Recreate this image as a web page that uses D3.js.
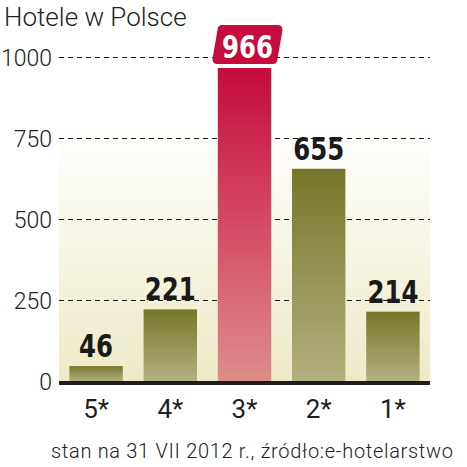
<!DOCTYPE html>
<html>
<head>
<meta charset="utf-8">
<script src="https://cdn.jsdelivr.net/npm/d3@7"></script>
<style>
  body { margin: 0; background: #fff; }
  svg { display: block; }
</style>
</head>
<body>
<svg id="container"></svg>
<script>
// data
const categories = ['5*', '4*', '3*', '2*', '1*']
const values = [46, 221, 966, 655, 214]
const yTicks = [0, 250, 500, 750, 1000]
const highlight = '3*'

const width = 467
const height = 467
const margin = { top: 57, right: 37, bottom: 86, left: 59 }
const w = width - margin.left - margin.right
const h = height - margin.top - margin.bottom

const svg = d3.select('#container').attr('width', width).attr('height', height)

const defs = svg.append('defs')

// plot background gradient
const bg = defs.append('linearGradient').attr('id', 'bg')
  .attr('x1', 0).attr('y1', 0).attr('x2', 0).attr('y2', 1)
bg.append('stop').attr('offset', '0%').attr('stop-color', '#ffffff')
bg.append('stop').attr('offset', '25%').attr('stop-color', '#ffffff')
bg.append('stop').attr('offset', '100%').attr('stop-color', '#eeeac8')

const olive = defs.append('linearGradient').attr('id', 'olive')
  .attr('x1', 0).attr('y1', 0).attr('x2', 0).attr('y2', 1)
olive.append('stop').attr('offset', '0%').attr('stop-color', '#76772a')
olive.append('stop').attr('offset', '100%').attr('stop-color', '#b4b07f')

const red = defs.append('linearGradient').attr('id', 'red')
  .attr('x1', 0).attr('y1', 0).attr('x2', 0).attr('y2', 1)
red.append('stop').attr('offset', '0%').attr('stop-color', '#c60b3e')
red.append('stop').attr('offset', '100%').attr('stop-color', '#df8c8c')

const g = svg.append('g')
  .attr('transform', `translate(${margin.left},${margin.top})`)

const x = d3.scaleBand()
  .domain(categories)
  .range([0, w])
  .paddingInner(0.28)
  .paddingOuter(0.14)

const y = d3.scaleLinear().domain([0, 1000]).range([h, 0])

// background
g.append('rect')
  .attr('x', 0)
  .attr('y', -20)
  .attr('width', w)
  .attr('height', h + 20)
  .attr('fill', 'url(#bg)')

// title
svg.append('text')
  .attr('x', 4)
  .attr('y', 26)
  .style('font-family', 'Roboto, "Open Sans", sans-serif')
  .style('font-weight', 300)
  .style('font-size', '26px')
  .attr('fill', '#222')
  .text('Hotele w Polsce')

// y axis: dashed gridlines + labels
const yAxis = d3.axisLeft(y)
  .tickValues(yTicks)
  .tickSize(-w)
  .tickPadding(7)
  .tickFormat(d3.format('d'))

const gY = g.append('g').attr('class', 'axis y-axis').call(yAxis)
gY.select('.domain').remove()
gY.selectAll('.tick line')
  .attr('stroke', '#1a1a1a')
  .attr('stroke-width', 1)
  .attr('stroke-dasharray', '5,4')
gY.selectAll('.tick text')
  .attr('fill', '#222')
  .attr('dy', '0.36em')
  .style('font-family', 'Roboto, "Open Sans", sans-serif')
  .style('font-weight', 300)
  .style('font-size', '23px')

// bars
g.append('g')
  .selectAll('rect')
  .data(categories)
  .join('rect')
  .attr('x', d => x(d))
  .attr('y', (d, i) => y(values[i]))
  .attr('width', x.bandwidth())
  .attr('height', (d, i) => y(0) - y(values[i]))
  .attr('fill', d => d === highlight ? 'url(#red)' : 'url(#olive)')

// baseline
g.append('line')
  .attr('x1', 0)
  .attr('x2', w)
  .attr('y1', y(0) + 2)
  .attr('y2', y(0) + 2)
  .attr('stroke', '#1e1e1e')
  .attr('stroke-width', 4)

// highlight box for the biggest value
const hi = categories.indexOf(highlight)
const bx = x(highlight) + x.bandwidth() / 2 + 3
const bTop = y(values[hi]) - 43
const bBot = y(values[hi]) - 4
const bw = 70
const sl = 5
const r = 5
const x0 = bx - bw / 2
const x1 = bx + bw / 2
g.append('path')
  .attr('d', [
    `M${x0 + sl + r},${bTop}`,
    `L${x1 - r},${bTop}`,
    `Q${x1},${bTop} ${x1},${bTop + r}`,
    `L${x1 - sl},${bBot - r}`,
    `Q${x1 - sl},${bBot} ${x1 - sl - r},${bBot}`,
    `L${x0 + r},${bBot}`,
    `Q${x0},${bBot} ${x0},${bBot - r}`,
    `L${x0 + sl},${bTop + r}`,
    `Q${x0 + sl},${bTop} ${x0 + sl + r},${bTop}`,
    'Z'
  ].join(' '))
  .attr('fill', '#c60b3e')

// value labels
g.append('g')
  .selectAll('text')
  .data(categories)
  .join('text')
  .attr('x', d => x(d) + x.bandwidth() / 2 + (d === highlight ? 3 : 0))
  .attr('y', (d, i) => d === highlight ? bBot - 6 : y(values[i]) - 9)
  .attr('text-anchor', 'middle')
  .attr('textLength', (d, i) => String(values[i]).length * 17)
  .attr('lengthAdjust', 'spacingAndGlyphs')
  .attr('fill', d => d === highlight ? '#fff' : '#1a1a1a')
  .style('font-family', '"DejaVu Sans Condensed", "DejaVu Sans", sans-serif')
  .style('font-weight', 'bold')
  .style('font-size', '32px')
  .text((d, i) => values[i])

// x axis labels
const xAxis = d3.axisBottom(x).tickSize(0).tickPadding(19)
const gX = g.append('g')
  .attr('class', 'axis x-axis')
  .attr('transform', `translate(0,${h})`)
  .call(xAxis)
gX.select('.domain').remove()
gX.selectAll('.tick text')
  .attr('fill', '#1e1e1e')
  .style('font-family', 'Roboto, "Open Sans", sans-serif')
  .style('font-weight', 400)
  .style('font-size', '26px')

// source note
svg.append('text')
  .attr('x', 51)
  .attr('y', 458)
  .attr('textLength', 402)
  .attr('lengthAdjust', 'spacing')
  .attr('fill', '#222')
  .style('font-family', 'Roboto, "Open Sans", sans-serif')
  .style('font-weight', 300)
  .style('font-size', '20px')
  .text('stan na 31 VII 2012 r., źródło:e-hotelarstwo')
</script>
</body>
</html>
